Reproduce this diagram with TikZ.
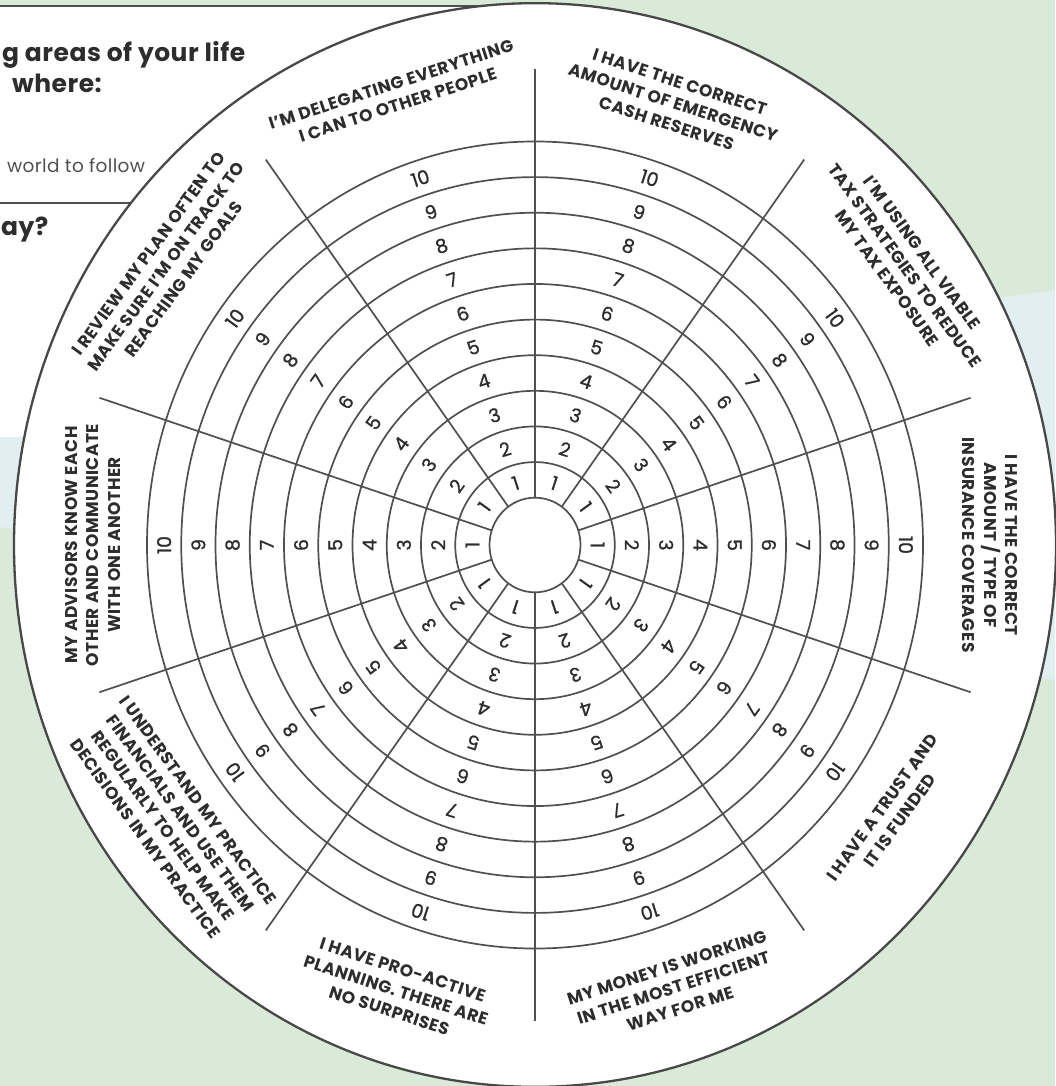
\documentclass[tikz,border=0pt]{standalone}
\usepackage{fontspec}
\setmainfont{Poppins}
\newfontfamily\lblfont{Poppins}[LetterSpace=3]
\newfontfamily\numfont{Poppins}[FakeBold=1]
\newfontfamily\headfont{Poppins}[LetterSpace=2]
\definecolor{bggreen}{RGB}{218,234,217}
\definecolor{bgblue}{RGB}{225,239,241}
\definecolor{ink}{RGB}{45,45,45}
\definecolor{rulec}{RGB}{80,80,80}
\begin{document}
\begin{tikzpicture}[x=1pt,y=1pt,line join=round,
  ringline/.style={draw=rulec, line width=1.7pt},
  spokeline/.style={draw=rulec, line width=1.7pt},
  rimline/.style={draw=rulec!90!black, line width=2.3pt, fill=white},
  numlbl/.style={text=ink, font=\numfont\fontsize{19}{19}\selectfont, inner sep=0pt},
  seclbl/.style={text=ink, font=\lblfont\bfseries\fontsize{17}{21.7}\selectfont, align=center, inner sep=0pt},
  headtxt/.style={text=ink, font=\headfont\bfseries\fontsize{25}{25}\selectfont, anchor=base west, inner sep=0pt},
  subtxt/.style={text=rulec, font=\headfont\fontsize{18.5}{18.5}\selectfont, anchor=base west, inner sep=0pt},
]
\useasboundingbox (0,0) rectangle (1055,-1086);
% background
\fill[bggreen] (0,0) rectangle (1055,-1086);
\fill[bgblue] (0,-437) -- (1055,-290) -- (1055,-680) -- (0,-527) -- cycle;
% card
\fill[white] (0,-7) rectangle (560,-437);
\coordinate (cardtl) at (0,-6);
\coordinate (cardtr) at (560,-6);
\draw[rulec, line width=1.6pt] (cardtl) -- (cardtr);
\coordinate (boxl) at (0,-203);
\coordinate (boxr) at (200,-203);
\draw[rulec, line width=1.6pt] (boxl) -- (boxr);
\node[headtxt] (h1) at (2,-62) {g areas of your life};
\node[headtxt] (h2) at (12,-93) {where:};
\node[subtxt] (h3) at (7,-172) {world to follow};
\node[headtxt] (h4) at (1,-235) {ay?};
% wheel
\begin{scope}[shift={(535,-545)}, yscale=1.04]
  \draw[rimline] (0,0) circle (521);
  \foreach \k in {0,...,10}{
    \draw[ringline] (0,0) circle ({45.5+34.25*\k});
  }
  \foreach \s in {0,...,9}{
    \pgfmathsetmacro\b{90-36*\s}
    \coordinate (si\s) at (\b:45.5);
    \coordinate (so\s) at (\b:458);
    \draw[spokeline] (si\s) -- (so\s);
  }
  \foreach \s in {0,...,9}{
    \pgfmathsetmacro\a{72-36*\s}
    \foreach \k in {1,...,10}{
      \node[numlbl, rotate=\a-90] (n\s-\k) at (\a:{45.5+34.25*(\k-0.5)}) {\k};
    }
  }
  \node[seclbl, rotate=18] (l108) at (108:455) {I’M DELEGATING EVERYTHING\\I CAN TO OTHER PEOPLE};
  \node[seclbl, rotate=-18] (l72) at (72:447) {I HAVE THE CORRECT\\AMOUNT OF EMERGENCY\\CASH RESERVES};
  \node[seclbl, rotate=-54] (l36) at (36:457) {I’M USING ALL VIABLE\\TAX STRATEGIES TO REDUCE\\MY TAX EXPOSURE};
  \node[seclbl, rotate=-90] (l0) at (0:455) {I HAVE THE CORRECT\\AMOUNT / TYPE OF\\INSURANCE COVERAGES};
  \node[seclbl, rotate=54] (lm36) at (-36:440) {I HAVE A TRUST AND\\IT IS FUNDED};
  \node[seclbl, rotate=18] (lm72) at (-72:448) {MY MONEY IS WORKING\\IN THE MOST EFFICIENT\\WAY FOR ME};
  \node[seclbl, rotate=-18] (lm108) at (-108:450) {I HAVE PRO-ACTIVE\\PLANNING. THERE ARE\\NO SURPRISES};
  \node[seclbl, rotate=-54] (lm144) at (-144:449) {I UNDERSTAND MY PRACTICE\\FINANCIALS AND USE THEM\\REGULARLY TO HELP MAKE\\DECISIONS IN MY PRACTICE};
  \node[seclbl, rotate=90] (l180) at (180:442) {MY ADVISORS KNOW EACH\\OTHER AND COMMUNICATE\\WITH ONE ANOTHER};
  \node[seclbl, rotate=54] (l144) at (144:456) {I REVIEW MY PLAN OFTEN TO\\MAKE SURE I’M ON TRACK TO\\REACHING MY GOALS};
\end{scope}
\end{tikzpicture}
\end{document}
